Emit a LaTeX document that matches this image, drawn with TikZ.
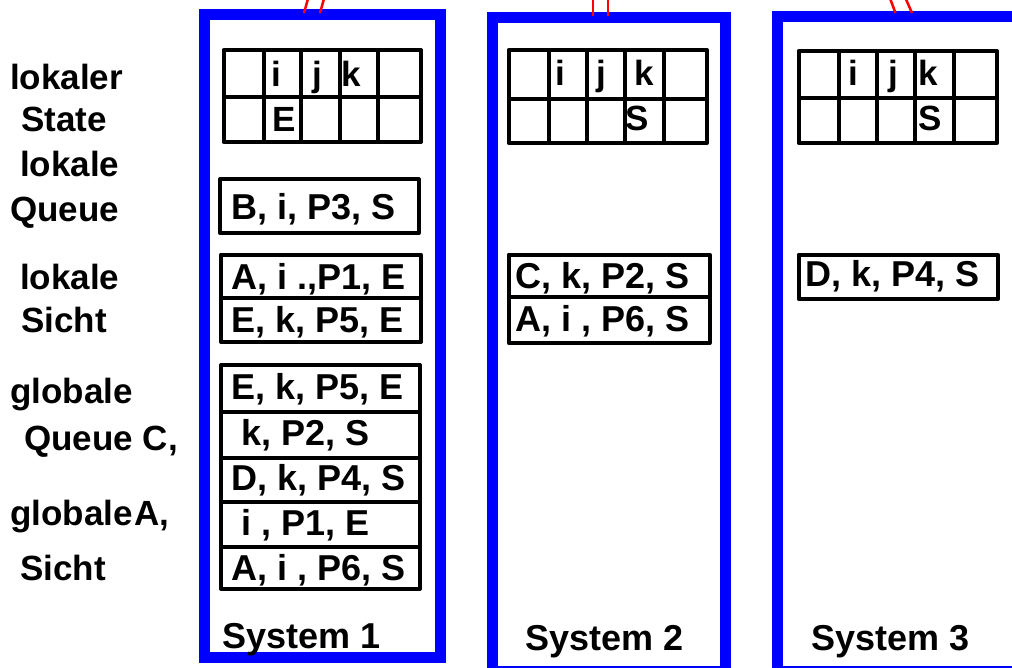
\documentclass[tikz,border=0pt]{standalone}
\usepackage{fontspec}
\setmainfont{Liberation Sans}
\definecolor{sysblue}{RGB}{0,0,255}
\begin{document}
\begin{tikzpicture}[x=1pt,y=-1pt,
  frame/.style={draw=sysblue,line width=11pt},
  cell/.style={draw=black,line width=4pt,line join=round},
  txt/.style={anchor=base west,inner sep=0pt,font=\fontsize{35}{40}\selectfont\bfseries},
  btxt/.style={txt,font=\fontsize{36}{40}\selectfont\bfseries},
  link/.style={draw=red,line width=2.5pt}]
\clip (0,0) rectangle (1012,668);
\fill[white] (0,0) rectangle (1012,668);

% system frames
\draw[frame] (204.5,14.5) rectangle (440.5,657.5);
\draw[frame] (492,17.5) rectangle (725,671.5);
\draw[frame] (777,16.5) rectangle (1030,671.5);

% red links leaving the frames
\coordinate (r1a) at (304,13); \coordinate (r1b) at (308.5,-3);
\coordinate (r1c) at (320,13); \coordinate (r1d) at (324.5,-3);
\coordinate (r2a) at (593,16); \coordinate (r2b) at (593,-3);
\coordinate (r2c) at (608,16); \coordinate (r2d) at (608,-3);
\coordinate (r3a) at (895.5,13); \coordinate (r3b) at (889.5,-3);
\coordinate (r3c) at (912,13); \coordinate (r3d) at (905,-3);
\draw[link] (r1a) -- (r1b); \draw[link] (r1c) -- (r1d);
\draw[link] (r2a) -- (r2b); \draw[link] (r2c) -- (r2d);
\draw[link] (r3a) -- (r3b); \draw[link] (r3c) -- (r3d);

% left labels
\node[txt] (l1) at (10,90) {lokaler};
\node[txt] (l2) at (21,132) {State};
\node[txt] (l3) at (20,177) {lokale};
\node[txt] (l4) at (10,222) {Queue};
\node[txt] (l5) at (20,290) {lokale};
\node[txt] (l6) at (21,332) {Sicht};
\node[txt] (l7) at (10,403) {globale};
\node[txt] (l8) at (24,450) {Queue C,};
\node[txt] (l9) at (10,525) {globale\hspace{2pt}A,};
\node[txt] (l10) at (20,580) {Sicht};

% ---------- System 1 ----------
\draw[cell] (223.5,50) rectangle (421,142);
\draw[cell] (223.5,97) -- (421,97);
\foreach \x in {263.5,301,339.5,377.5} \draw[cell] (\x,50) -- (\x,142);
\node[txt] (a1i) at (271,87) {i};
\node[txt] (a1j) at (312,87) {j};
\node[txt] (a1k) at (341,87) {k};
\node[txt] (a1E) at (272.5,132) {E};

\draw[cell] (220,179.3) rectangle (418.7,233);
\node[btxt] (q1) at (231,220) {B, i, P3, S};

\draw[cell] (221,254.7) rectangle (421,342);
\draw[cell] (221,297.7) -- (421,297.7);
\node[btxt] (s1a) at (231,290) {A, i .,P1, E};
\node[btxt] (s1b) at (231,333) {E, k, P5, E};

\draw[cell] (221,365) rectangle (420,588.7);
\foreach \y in {411.7,457.7,501.7,547.3} \draw[cell] (221,\y) -- (420,\y);
\node[btxt] (g1) at (231,399) {E, k, P5, E};
\node[btxt] (g2) at (241,445) {k, P2, S};
\node[btxt] (g3) at (231,490) {D, k, P4, S};
\node[btxt] (g4) at (241,535) {i , P1, E};
\node[btxt] (g5) at (231,580) {A, i , P6, S};

\node[btxt] (n1) at (222,648) {System 1};

% ---------- System 2 ----------
\draw[cell] (508.5,50) rectangle (707,143);
\draw[cell] (508.5,99) -- (707,99);
\foreach \x in {548.5,587,625,663.5} \draw[cell] (\x,50) -- (\x,143);
\node[txt] (a2i) at (555,86) {i};
\node[txt] (a2j) at (596,86) {j};
\node[txt] (a2k) at (634.5,86) {k};
\node[txt] (a2S) at (625,131) {S};

\draw[cell] (508.7,254.7) rectangle (709.7,343);
\draw[cell] (508.7,297.3) -- (709.7,297.3);
\node[btxt] (s2a) at (515,288.5) {C, k, P2, S};
\node[btxt] (s2b) at (515,331.5) {A, i , P6, S};

\node[btxt] (n2) at (525,650) {System 2};

% ---------- System 3 ----------
\draw[cell] (798.5,51) rectangle (997,143);
\draw[cell] (798.5,98.5) -- (997,98.5);
\foreach \x in {838.5,877,915,953.5} \draw[cell] (\x,51) -- (\x,143);
\node[txt] (a3i) at (848,86) {i};
\node[txt] (a3j) at (888,86) {j};
\node[txt] (a3k) at (918,86) {k};
\node[txt] (a3S) at (918,131) {S};

\draw[cell] (798.7,254.7) rectangle (998,299);
\node[btxt] (s3a) at (805,287) {D, k, P4, S};

\node[btxt] (n3) at (811,650) {System 3};
\end{tikzpicture}
\end{document}
